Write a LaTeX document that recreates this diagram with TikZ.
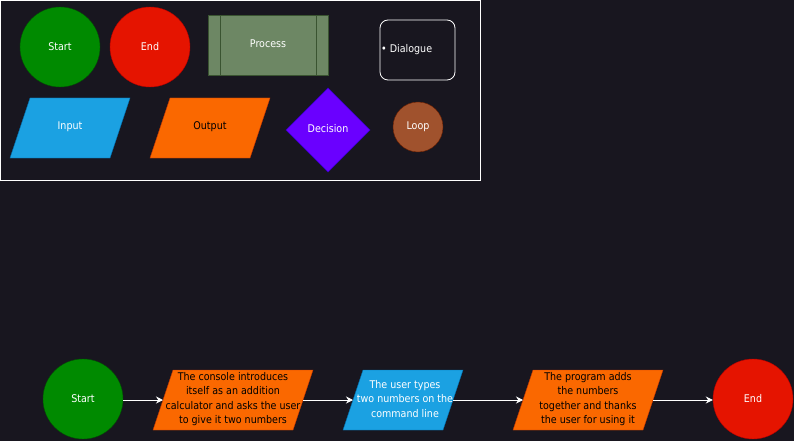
\documentclass[tikz,border=0pt]{standalone}
\usepackage{fontspec}
\setmainfont{DejaVu Sans Condensed}
\usetikzlibrary{arrows.meta}
\definecolor{bg}{HTML}{18161F}
\definecolor{gfill}{HTML}{008A00}\definecolor{gline}{HTML}{005700}
\definecolor{rfill}{HTML}{E51400}\definecolor{rline}{HTML}{B20000}
\definecolor{pfill}{HTML}{6D8764}\definecolor{pline}{HTML}{3A5431}
\definecolor{bfill}{HTML}{1BA1E2}\definecolor{bline}{HTML}{006EAF}
\definecolor{ofill}{HTML}{FA6800}\definecolor{oline}{HTML}{C73500}
\definecolor{vfill}{HTML}{6A00FF}\definecolor{vline}{HTML}{3700CC}
\definecolor{lfill}{HTML}{A0522D}\definecolor{lline}{HTML}{6D1F00}
\tikzset{
  lbl/.style={font=\fontsize{10.6}{14.3}\selectfont, align=center, inner sep=0pt},
  wtext/.style={lbl, text=white},
  btext/.style={lbl, text=black},
  startc/.style={circle, fill=gfill, draw=gline, minimum size=80pt, inner sep=0pt, text=white, font=\fontsize{10.6}{12}\selectfont},
  endc/.style={circle, fill=rfill, draw=rline, minimum size=80pt, inner sep=0pt, text=white, font=\fontsize{10.6}{12}\selectfont},
  inpoly/.style={fill=bfill, draw=bline},
  outpoly/.style={fill=ofill, draw=oline},
  conn/.style={draw=white, line width=0.9pt, -{Stealth[length=7pt,width=7pt]}},
}
\begin{document}
\begin{tikzpicture}[x=1pt,y=-1pt]
\fill[bg] (0,0) rectangle (794,441);
\useasboundingbox (0,0) rectangle (794,441);
% legend frame
\draw[white, line width=0.8pt] (0.5,0.5) rectangle (480,180);
% legend items
\node[startc] (ls) at (60,47) {Start};
\node[endc] (le) at (150,47) {End};
\draw[fill=pfill, draw=pline, line width=0.8pt] (208,15) rectangle (328,75);
\draw[pline, line width=0.8pt] (220,15) -- (220,75) (316,15) -- (316,75);
\node[wtext] (lp) at (268,44) {Process};
\draw[white, line width=0.8pt, rounded corners=8pt] (380,20) rectangle (455,80);
\node[wtext, anchor=west] (ld) at (381,49.5) {• Dialogue};
\draw[inpoly] (10,158) -- (30,98) -- (130,98) -- (110,158) -- cycle;
\node[wtext] (li) at (70,127) {Input};
\draw[outpoly] (150,158) -- (170,98) -- (270,98) -- (250,158) -- cycle;
\node[btext] (lo) at (210,127) {Output};
\draw[fill=vfill, draw=vline] (328,88) -- (370,130) -- (328,172) -- (286,130) -- cycle;
\node[wtext] (lde) at (328,129) {Decision};
\node[circle, fill=lfill, draw=lline, minimum size=50pt, inner sep=0pt, text=white, font=\fontsize{10.6}{12}\selectfont] (ll) at (418,127) {Loop};
% flow
\node[startc] (s) at (83,399) {Start};
\draw[outpoly] (153,430) -- (173,370) -- (313,370) -- (293,430) -- cycle;
\node[btext] (a) at (233,399) {The console introduces\\itself as an addition\\calculator and asks the user\\to give it two numbers};
\coordinate (ain) at (163,400);
\coordinate (aout) at (303,400);
\draw[inpoly] (343,430) -- (363,370) -- (463,370) -- (443,430) -- cycle;
\node[wtext] (b) at (405,399) {The user types\\two numbers on the\\command line};
\coordinate (bin) at (353,400);
\coordinate (bout) at (453,400);
\draw[outpoly] (513,430) -- (533,370) -- (663,370) -- (643,430) -- cycle;
\node[btext] (c) at (588,399) {The program adds\\the numbers\\together and thanks\\the user for using it};
\coordinate (cin) at (523,400);
\coordinate (cout) at (653,400);
\node[endc] (e) at (753,399) {End};
\draw[conn] (s.east |- ain) -- (ain);
\draw[conn] (aout) -- (bin);
\draw[conn] (bout) -- (cin);
\draw[conn] (cout) -- (e.west |- cout);
\end{tikzpicture}
\end{document}
